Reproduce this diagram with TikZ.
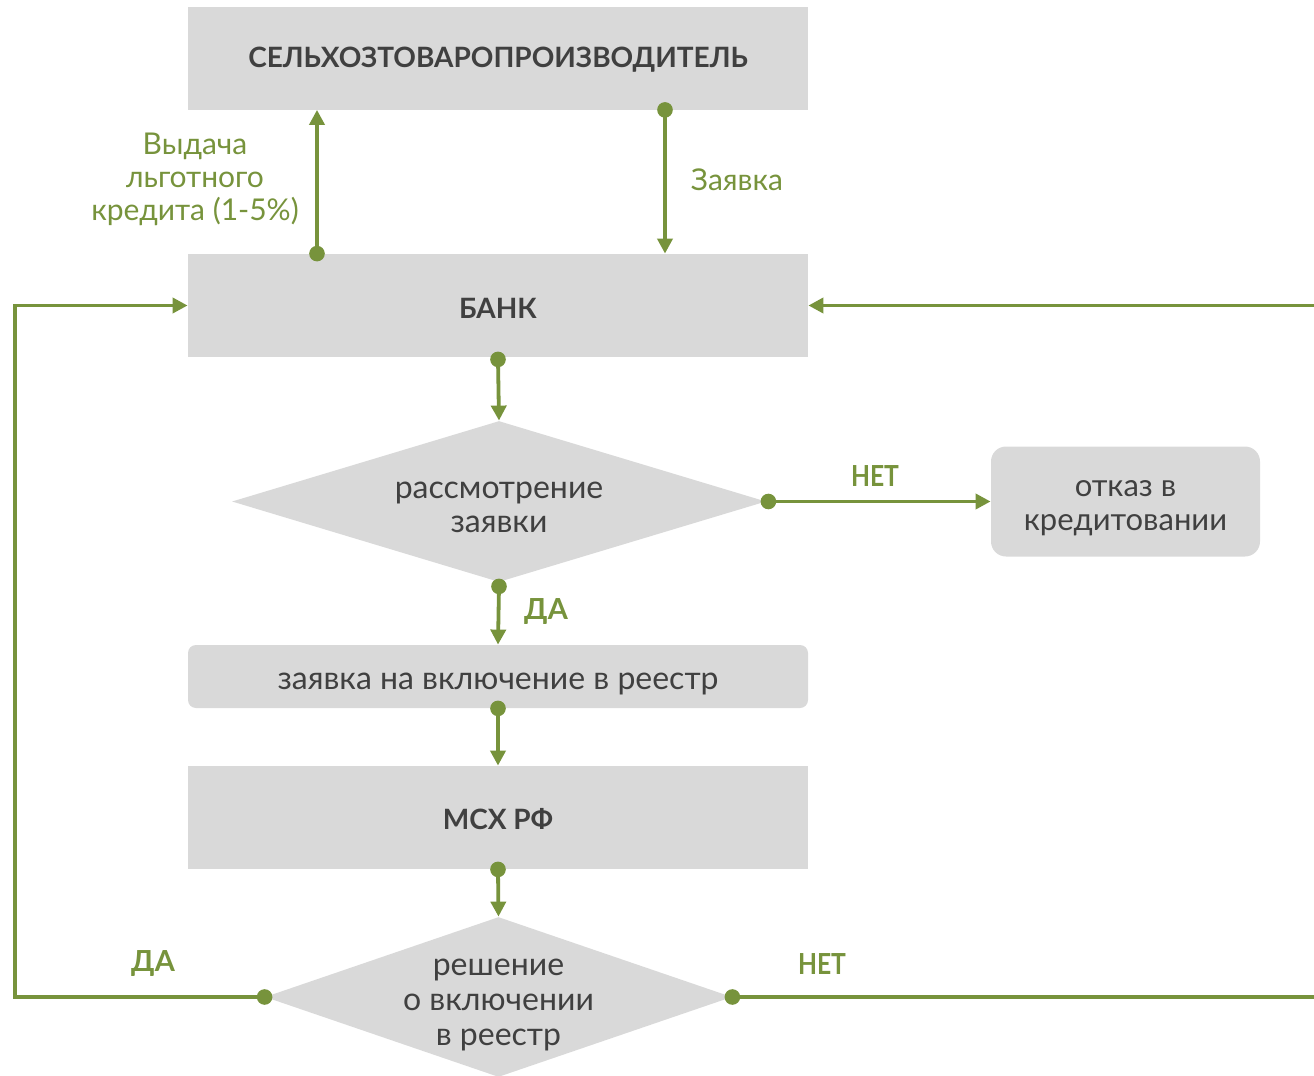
\documentclass[tikz,border=0pt]{standalone}
\usepackage{fontspec}
\setmainfont{Lato}
\usetikzlibrary{arrows.meta,shapes.geometric}
\definecolor{boxgray}{HTML}{D9D9D9}
\definecolor{grn}{HTML}{77933C}
\definecolor{txt}{HTML}{404040}
\begin{document}
\begin{tikzpicture}[x=0.5pt,y=-0.5pt,
  box/.style={fill=boxgray, draw=none, minimum width=310pt, minimum height=51.5pt, inner sep=0pt},
  rbox/.style={fill=boxgray, draw=none, inner sep=0pt},
  dia/.style={diamond, fill=boxgray, draw=none, inner sep=0pt},
  ttl/.style={text=txt, inner sep=0pt, font=\bfseries\fontsize{14}{16}\selectfont},
  dtext/.style={text=txt, align=center, inner sep=0pt, font=\fontsize{15.5}{17}\selectfont},
  conn/.style={draw=grn, line width=1.9pt, -{Triangle[length=7.5pt,width=7.5pt]}},
  plain/.style={draw=grn, line width=1.9pt},
  lbl/.style={text=grn, align=center, inner sep=0pt},
  yn/.style={text=grn, inner sep=0pt, font=\bfseries\fontsize{14.5}{16}\selectfont},
  dotc/.style={fill=grn}
]
\useasboundingbox (0,0) rectangle (1314,1076);

% boxes
\node[box] (top) at (498,58) {};
\node[ttl] (topt) at (498,60) {СЕЛЬХОЗТОВАРОПРОИЗВОДИТЕЛЬ};
\node[box] (bank) at (498,305.5) {};
\node[ttl] (bankt) at (498,308) {БАНК};
\node[dia, minimum width=267pt, minimum height=80.5pt] (d1) at (499,501.5) {};
\node[dtext, font=\fontsize{16}{17}\selectfont] (d1t) at (499,507) {рассмотрение\\заявки};
\node[rbox, rounded corners=7.5pt, minimum width=134.5pt, minimum height=55pt] (otkaz) at (1125.5,501.5) {};
\node[dtext] (otkazt) at (1125.5,508) {отказ в\\кредитовании};
\node[rbox, rounded corners=4pt, minimum width=310pt, minimum height=31.5pt] (reg) at (498,676.5) {};
\node[dtext, font=\fontsize{16}{17}\selectfont] (regt) at (498,684) {заявка на включение в реестр};
\node[box] (msx) at (498,817.5) {};
\node[ttl] (msxt) at (498,819) {МСХ РФ};
\node[dia, minimum width=233.5pt, minimum height=80pt] (d2) at (498.5,997) {};
\node[dtext, font=\fontsize{16}{17.5}\selectfont] (d2t) at (498.5,1005) {решение\\о включении\\в реестр};

% coordinates
\coordinate (lc) at (15,997);
\coordinate (rbot) at (1314,997);
\coordinate (rtop) at (1314,305.5);

% connectors
\draw[conn] ([xshift=-90.5pt]bank.north) -- ([xshift=-90.5pt]top.south);
\fill[dotc] ([xshift=-90.5pt]bank.north) circle (3.9pt);
\draw[conn] ([xshift=83.5pt]top.south) -- ([xshift=83.5pt]bank.north);
\fill[dotc] ([xshift=83.5pt]top.south) circle (3.9pt);
\draw[conn] ([yshift=-1pt]bank.south) -- (d1.north);
\fill[dotc] ([yshift=-1pt]bank.south) circle (3.9pt);
\draw[conn] ([xshift=1pt]d1.east) -- (otkaz.west);
\fill[dotc] ([xshift=1pt]d1.east) circle (3.9pt);
\draw[conn] ([yshift=-2pt]d1.south) -- (reg.north);
\fill[dotc] ([yshift=-2pt]d1.south) circle (3.9pt);
\draw[conn] (reg.south) -- (msx.north);
\fill[dotc] (reg.south) circle (3.9pt);
\draw[conn] (msx.south) -- (d2.north);
\fill[dotc] (msx.south) circle (3.9pt);
\draw[conn] (d2.west) -- (lc) |- (bank.west);
\fill[dotc] (d2.west) circle (3.9pt);
\draw[plain] (d2.east) -- (rbot);
\fill[dotc] (d2.east) circle (3.9pt);
\draw[conn] (rtop) -- (bank.east);

% labels
\node[lbl, font=\fontsize{15}{16.5}\selectfont] (l1) at (195,179) {Выдача\\льготного\\кредита (1-5\%)};
\node[lbl, font=\fontsize{15}{17}\selectfont] (l2) at (737,180) {Заявка};
\node[yn] (n1) at (875,476) {\scalebox{0.85}[1]{НЕТ}};
\node[yn] (y1) at (546,612) {ДА};
\node[yn] (y2) at (153,964) {ДА};
\node[yn] (n2) at (822,964) {\scalebox{0.85}[1]{НЕТ}};
\end{tikzpicture}
\end{document}
